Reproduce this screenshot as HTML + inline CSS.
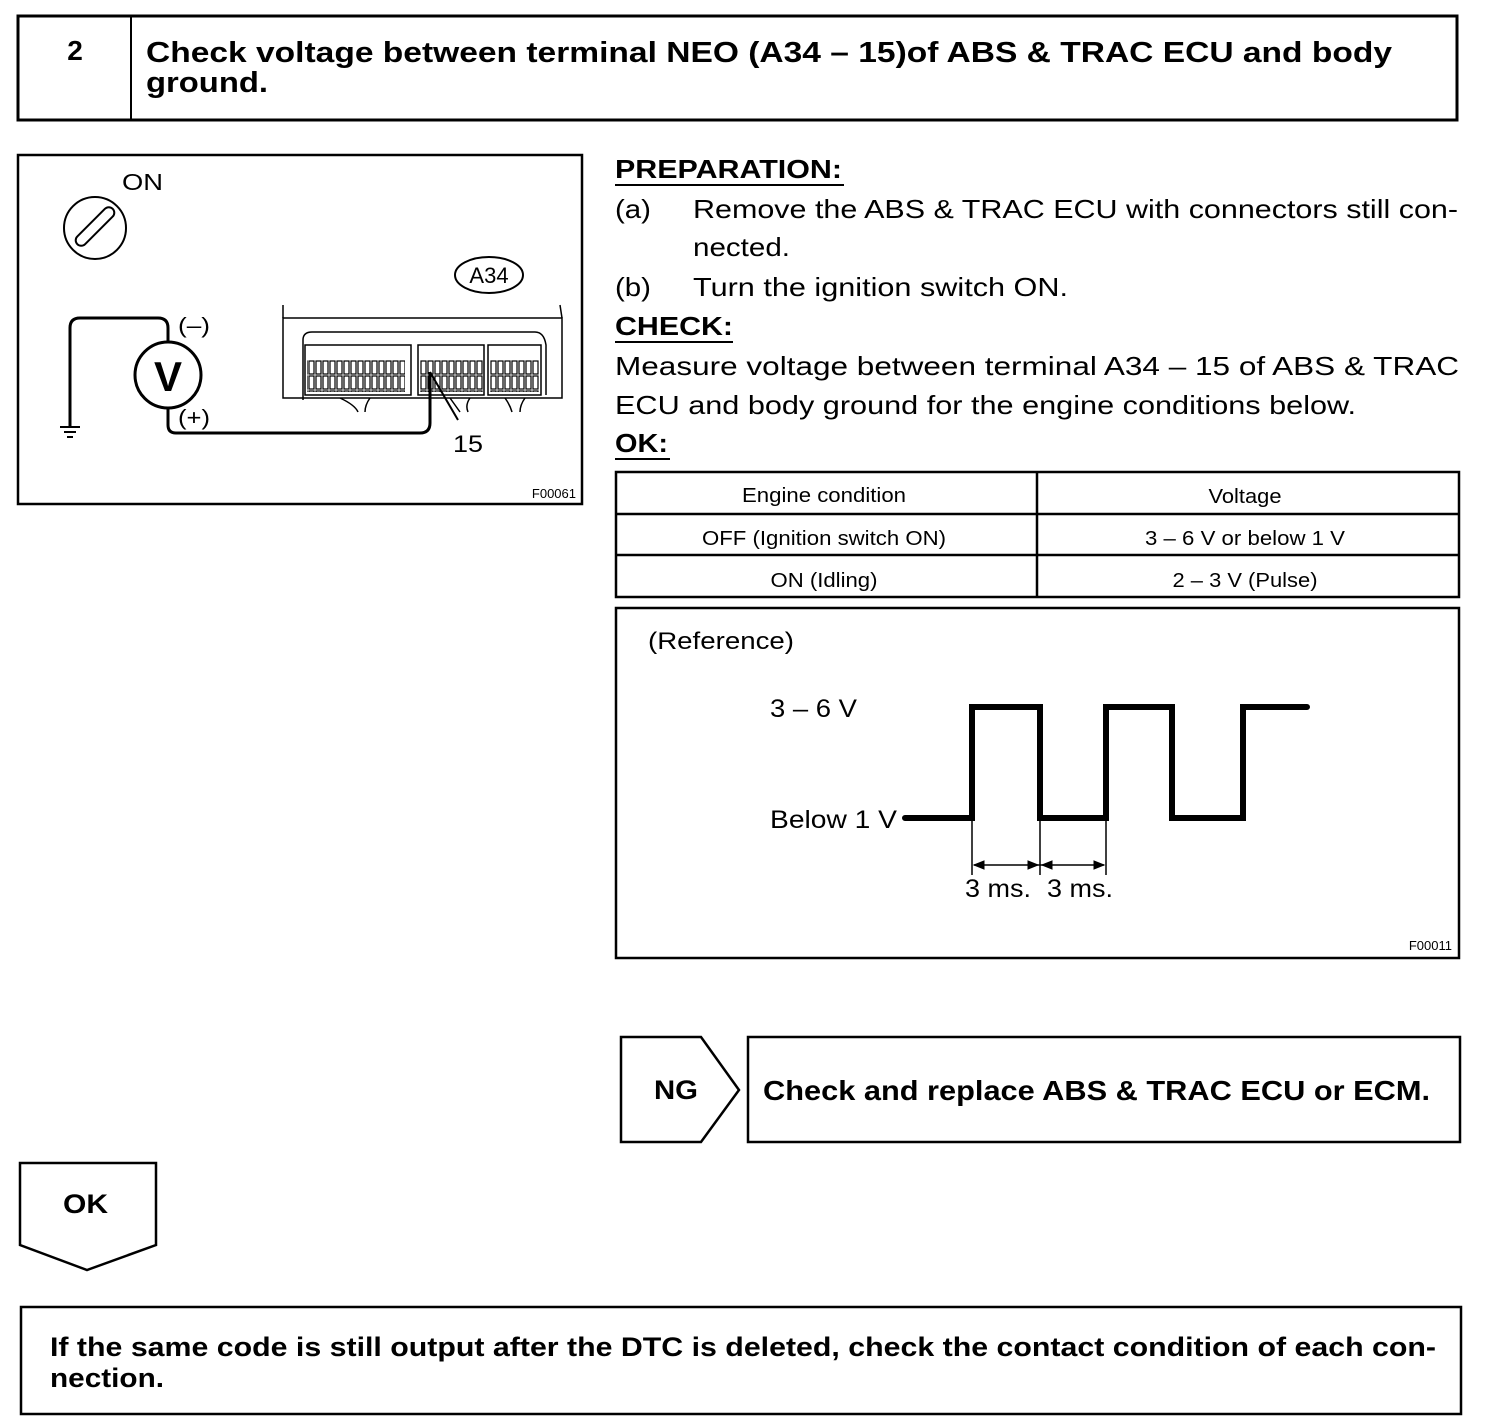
<!DOCTYPE html>
<html><head><meta charset="utf-8"><style>
html,body{margin:0;padding:0;background:#fff}
svg{display:block}
text{font-family:"Liberation Sans",Arial,sans-serif;fill:#000}
.b{font-weight:bold}
</style></head><body>
<svg width="1504" height="1428" viewBox="0 0 1504 1428" xmlns="http://www.w3.org/2000/svg">
<defs>
<pattern id="pins" x="0" y="0" width="7" height="15" patternUnits="userSpaceOnUse">
<rect x="1" y="1" width="5" height="13" fill="none" stroke="#000" stroke-width="1.2"/>
</pattern>
</defs>
<g fill="none" stroke="#000">
<rect x="18" y="16" width="1439" height="104" stroke-width="3"/>
<line x1="131" y1="16" x2="131" y2="120" stroke-width="2"/>
<rect x="18" y="155" width="564" height="349" stroke-width="2.5"/>
<circle cx="95" cy="228" r="31" stroke-width="2"/>
<rect x="70" y="221" width="50" height="11" rx="5.5" transform="rotate(-45 95 226.5)" stroke-width="2"/>
<ellipse cx="489" cy="275" rx="34" ry="18" stroke-width="2"/>
<circle cx="168" cy="375" r="33" stroke-width="3"/>
<path d="M168 342 V328 Q168 318 158 318 H80 Q70 318 70 328 V427" stroke-width="3"/>
<path d="M60 427 H80 M64 432 H76 M67 437 H73" stroke-width="2"/>
<path d="M168 408 V425 Q168 433 176 433 H420 Q430 433 430 423 V372" stroke-width="3"/>
<path d="M430 372 L458 420" stroke-width="2"/>
<path d="M283 305 L283 318 M560 305 L562 318" stroke-width="1.5"/>
<rect x="283" y="318" width="279" height="80" stroke-width="1.5"/>
<path d="M303 400 V340 Q303 332 312 332 H535 Q544 332 546 345 V395" stroke-width="1.5"/>
<rect x="305" y="345" width="106" height="50" stroke-width="1.5"/>
<rect x="418" y="345" width="66" height="50" stroke-width="1.5"/>
<rect x="488" y="345" width="53" height="50" stroke-width="1.5"/>
<rect x="307" y="360" width="98" height="32" fill="url(#pins)" stroke="none"/>
<rect x="420" y="360" width="63" height="32" fill="url(#pins)" stroke="none"/>
<rect x="490" y="360" width="49" height="32" fill="url(#pins)" stroke="none"/>
<path d="M340 398 Q355 405 358 412 M370 398 Q365 405 365 412 M450 398 Q455 405 460 412 M470 398 Q465 405 468 412 M505 398 Q510 405 512 412 M525 398 Q520 405 520 412" stroke-width="1.5"/>
<rect x="616" y="472" width="843" height="125" stroke-width="2.5"/>
<line x1="616" y1="514" x2="1459" y2="514" stroke-width="2.5"/>
<line x1="616" y1="555" x2="1459" y2="555" stroke-width="2.5"/>
<line x1="1037" y1="472" x2="1037" y2="597" stroke-width="2.5"/>
<rect x="616" y="608" width="843" height="350" stroke-width="2.5"/>
<path d="M905 818 H972 V707 H1040 V818 H1106 V707 H1172 V818 H1243 V707 H1307" stroke-width="6" stroke-linecap="round"/>
<path d="M972 820 V875 M1040 820 V875 M1106 820 V875 M974 865 H1104" stroke-width="1.5"/>
<path d="M974 865 l10 -4 v8 z M1038 865 l-10 -4 v8 z M1042 865 l10 -4 v8 z M1104 865 l-10 -4 v8 z" fill="#000"/>
<path d="M621 1037 H701 L739 1090 L701 1142 H621 Z" stroke-width="2.5"/>
<rect x="748" y="1037" width="712" height="105" stroke-width="2.5"/>
<path d="M20 1163 H156 V1245 L87 1270 L20 1245 Z" stroke-width="2.5"/>
<rect x="21" y="1307" width="1440" height="107" stroke-width="2.5"/>
</g>
<g lengthAdjust="spacingAndGlyphs">
<text x="75" y="60" class="b" font-size="28" text-anchor="middle">2</text>
<text x="146" y="62" class="b" font-size="29" textLength="1246" lengthAdjust="spacingAndGlyphs">Check voltage between terminal NEO (A34 – 15)of ABS &amp; TRAC ECU and body</text>
<text x="146" y="92" class="b" font-size="29" textLength="122" lengthAdjust="spacingAndGlyphs">ground.</text>

<text x="122" y="190" font-size="23" textLength="41" lengthAdjust="spacingAndGlyphs">ON</text>
<text x="489" y="283" font-size="22" text-anchor="middle">A34</text>
<text x="168" y="391" font-size="42" text-anchor="middle" class="b">V</text>
<text x="178" y="333" font-size="22" textLength="32" lengthAdjust="spacingAndGlyphs">(–)</text>
<text x="178" y="425" font-size="22" textLength="32" lengthAdjust="spacingAndGlyphs">(+)</text>
<text x="453" y="452" font-size="24" textLength="30" lengthAdjust="spacingAndGlyphs">15</text>
<text x="576" y="498" font-size="13" text-anchor="end">F00061</text>

<text x="615" y="178" class="b" font-size="26" textLength="227" lengthAdjust="spacingAndGlyphs">PREPARATION:</text>
<line x1="615" y1="185" x2="844" y2="185" stroke="#000" stroke-width="2"/>
<text x="615" y="218" font-size="26" textLength="36" lengthAdjust="spacingAndGlyphs">(a)</text>
<text x="693" y="218" font-size="26" textLength="765" lengthAdjust="spacingAndGlyphs">Remove the ABS &amp; TRAC ECU with connectors still con-</text>
<text x="693" y="256" font-size="26" textLength="97" lengthAdjust="spacingAndGlyphs">nected.</text>
<text x="615" y="296" font-size="26" textLength="36" lengthAdjust="spacingAndGlyphs">(b)</text>
<text x="693" y="296" font-size="26" textLength="375" lengthAdjust="spacingAndGlyphs">Turn the ignition switch ON.</text>
<text x="615" y="335" class="b" font-size="26" textLength="118" lengthAdjust="spacingAndGlyphs">CHECK:</text>
<line x1="615" y1="342" x2="733" y2="342" stroke="#000" stroke-width="2"/>
<text x="615" y="375" font-size="26" textLength="844" lengthAdjust="spacingAndGlyphs">Measure voltage between terminal A34 – 15 of ABS &amp; TRAC</text>
<text x="615" y="414" font-size="26" textLength="741" lengthAdjust="spacingAndGlyphs">ECU and body ground for the engine conditions below.</text>
<text x="615" y="452" class="b" font-size="26" textLength="53" lengthAdjust="spacingAndGlyphs">OK:</text>
<line x1="615" y1="459" x2="670" y2="459" stroke="#000" stroke-width="2"/>

<text x="824" y="502" font-size="20" text-anchor="middle" textLength="164" lengthAdjust="spacingAndGlyphs">Engine condition</text>
<text x="1245" y="503" font-size="20" text-anchor="middle" textLength="73" lengthAdjust="spacingAndGlyphs">Voltage</text>
<text x="824" y="545" font-size="20" text-anchor="middle" textLength="244" lengthAdjust="spacingAndGlyphs">OFF (Ignition switch ON)</text>
<text x="1245" y="545" font-size="20" text-anchor="middle" textLength="200" lengthAdjust="spacingAndGlyphs">3 – 6 V or below 1 V</text>
<text x="824" y="587" font-size="20" text-anchor="middle" textLength="107" lengthAdjust="spacingAndGlyphs">ON (Idling)</text>
<text x="1245" y="587" font-size="20" text-anchor="middle" textLength="145" lengthAdjust="spacingAndGlyphs">2 – 3 V (Pulse)</text>

<text x="648" y="649" font-size="24" textLength="146" lengthAdjust="spacingAndGlyphs">(Reference)</text>
<text x="770" y="717" font-size="25" textLength="87" lengthAdjust="spacingAndGlyphs">3 – 6 V</text>
<text x="770" y="828" font-size="25" textLength="127" lengthAdjust="spacingAndGlyphs">Below 1 V</text>
<text x="965" y="897" font-size="25" textLength="66" lengthAdjust="spacingAndGlyphs">3 ms.</text>
<text x="1047" y="897" font-size="25" textLength="66" lengthAdjust="spacingAndGlyphs">3 ms.</text>
<text x="1452" y="950" font-size="13" text-anchor="end">F00011</text>

<text x="654" y="1099" class="b" font-size="27" textLength="44" lengthAdjust="spacingAndGlyphs">NG</text>
<text x="763" y="1100" class="b" font-size="28" textLength="667" lengthAdjust="spacingAndGlyphs">Check and replace ABS &amp; TRAC ECU or ECM.</text>
<text x="63" y="1213" class="b" font-size="27" textLength="45" lengthAdjust="spacingAndGlyphs">OK</text>
<text x="50" y="1356" class="b" font-size="27" textLength="1386" lengthAdjust="spacingAndGlyphs">If the same code is still output after the DTC is deleted, check the contact condition of each con-</text>
<text x="50" y="1387" class="b" font-size="27" textLength="114" lengthAdjust="spacingAndGlyphs">nection.</text>
</g>
</svg>
</body></html>
